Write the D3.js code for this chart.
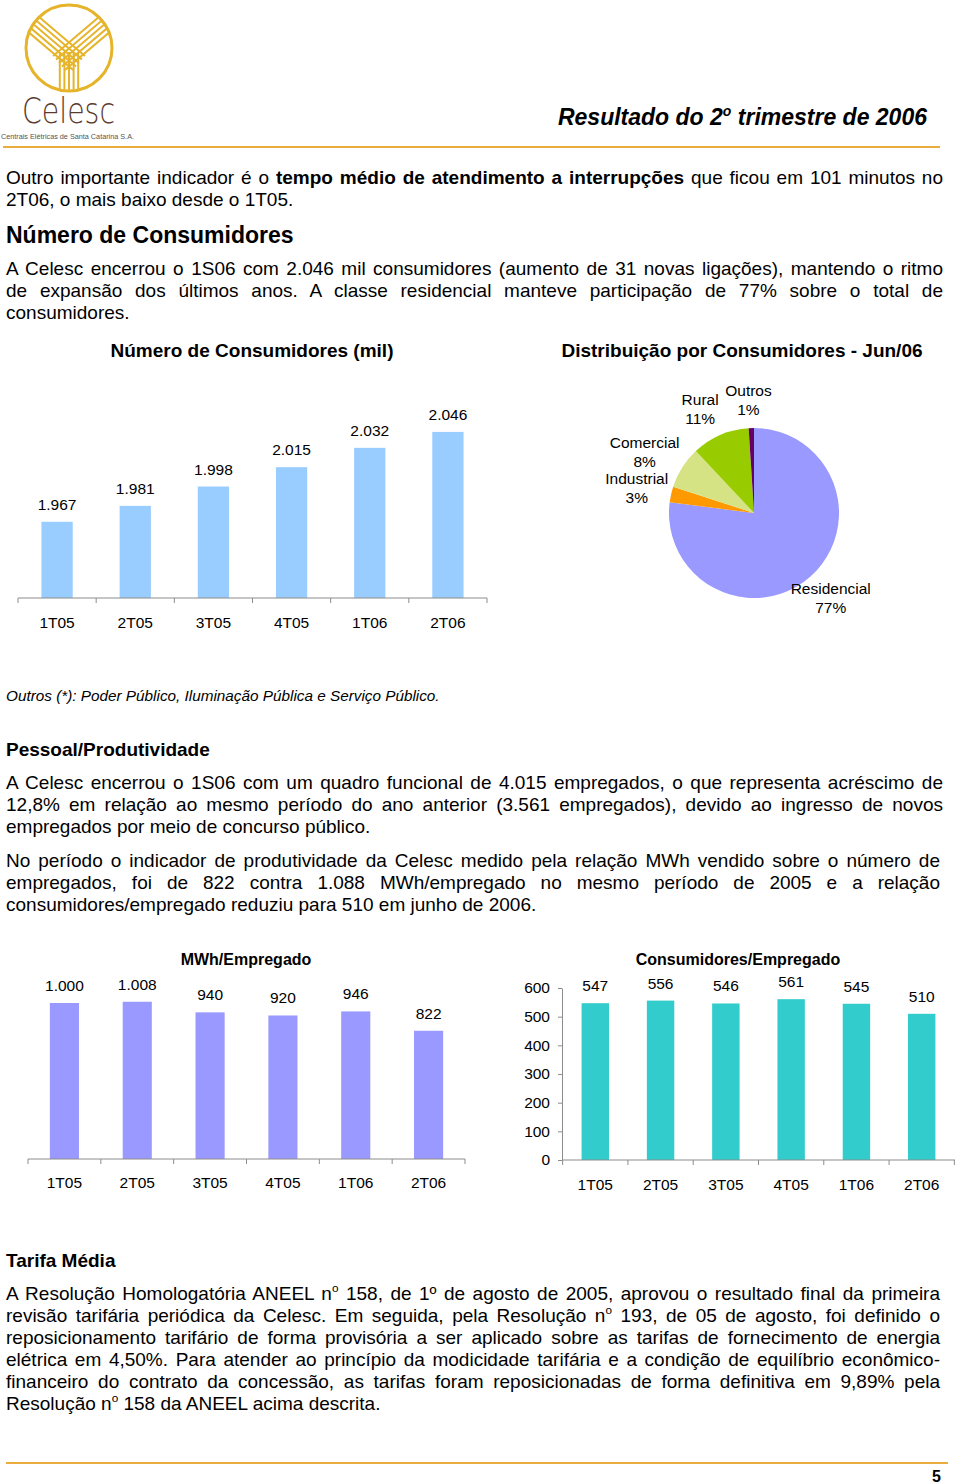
<!DOCTYPE html>
<html>
<head>
<meta charset="utf-8">
<script src="https://cdn.jsdelivr.net/npm/d3@7"></script>
<style>
  body { margin: 0; background: #fff; }
  svg text { white-space: pre; }
</style>
</head>
<body>
<script>
// --- data -------------------------------------------------------------
var quarters = ["1T05", "2T05", "3T05", "4T05", "1T06", "2T06"];
var consumidores = [1967, 1981, 1998, 2015, 2032, 2046];      // mil
var pieClasses = ["Residencial", "Industrial", "Comercial", "Rural", "Outros"];
var pieShares = [77, 3, 8, 11, 1];
var pieColors = ["#9999ff", "#ff9900", "#d6e384", "#99cc00", "#660066"];
var mwhEmpregado = [1000, 1008, 940, 920, 946, 822];
var consEmpregado = [547, 556, 546, 561, 545, 510];
var consTicks = [0, 100, 200, 300, 400, 500, 600];

// --- texts ------------------------------------------------------------
var para1 = ["Outro importante indicador é o **tempo médio de atendimento a interrupções** que ficou em 101 minutos no",
             "2T06, o mais baixo desde o 1T05."];
var para2 = ["A Celesc encerrou o 1S06 com 2.046 mil consumidores (aumento de 31 novas ligações), mantendo o ritmo",
             "de expansão dos últimos anos. A classe residencial manteve participação de 77% sobre o total de",
             "consumidores."];
var para3 = ["A Celesc encerrou o 1S06 com um quadro funcional de 4.015 empregados, o que representa acréscimo de",
             "12,8% em relação ao mesmo período do ano anterior (3.561 empregados), devido ao ingresso de novos",
             "empregados por meio de concurso público."];
var para4 = ["No período o indicador de produtividade da Celesc medido pela relação MWh vendido sobre o número de",
             "empregados, foi de 822 contra 1.088 MWh/empregado no mesmo período de 2005 e a relação",
             "consumidores/empregado reduziu para 510 em junho de 2006."];
var para5 = ["A Resolução Homologatória ANEEL n^o 158, de 1º de agosto de 2005, aprovou o resultado final da primeira",
             "revisão tarifária periódica da Celesc. Em seguida, pela Resolução n^o 193, de 05 de agosto, foi definido o",
             "reposicionamento tarifário de forma provisória a ser aplicado sobre as tarifas de fornecimento de energia",
             "elétrica em 4,50%. Para atender ao princípio da modicidade tarifária e a condição de equilíbrio econômico-",
             "financeiro do contrato da concessão, as tarifas foram reposicionadas de forma definitiva em 9,89% pela",
             "Resolução n^o 158 da ANEEL acima descrita."];

var fmt = d3.formatLocale({decimal: ",", thousands: ".", grouping: [3], currency: ["", ""]}).format(",d");

var svg = d3.select("body").append("svg")
    .attr("width", 960)
    .attr("height", 1484)
    .style("font-family", "'Liberation Sans', Arial, sans-serif");

var gold = "#ebac3e";

// --- logo ------------------------------------------------------------
function drawLogo()
{
    var g = svg.append("g").attr("transform", "translate(69,48)");
    var logoGold = "#e6b42a";
    svg.append("defs").append("clipPath").attr("id", "logoClip")
        .append("circle").attr("cx", 69).attr("cy", 48).attr("r", 42);

    var lines = g.append("g").attr("clip-path", "url(#logoClip)")
        .attr("transform", "translate(-69,-48)")
        .append("g").attr("transform", "translate(69,48)")
        .attr("stroke", logoGold).attr("stroke-width", 2).attr("fill", "none");

    var k;
    for (k = -2; k <= 2; k++) {
        var o = k * 4.6;
        // left arm
        lines.append("line")
            .attr("x1", -50 - 0.646 * o).attr("y1", -36 + 0.763 * o)
            .attr("x2", 10 - 0.646 * o).attr("y2", 15 + 0.763 * o);
        // right arm
        lines.append("line")
            .attr("x1", 50 + 0.646 * o).attr("y1", -36 + 0.763 * o)
            .attr("x2", -10 + 0.646 * o).attr("y2", 15 + 0.763 * o);
        // stem
        lines.append("line")
            .attr("x1", o).attr("y1", 4)
            .attr("x2", o).attr("y2", 46);
    }

    g.append("circle").attr("r", 43)
        .attr("fill", "none").attr("stroke", logoGold).attr("stroke-width", 3);

    svg.append("text")
        .attr("x", 22).attr("y", 123)
        .attr("font-family", "'DejaVu Sans', sans-serif")
        .attr("font-weight", 200)
        .attr("font-size", 35)
        .attr("textLength", 93)
        .attr("lengthAdjust", "spacingAndGlyphs")
        .attr("fill", "#5c3b2e")
        .text("Celesc");

    svg.append("text")
        .attr("x", 1).attr("y", 138.5)
        .attr("font-size", 7.5)
        .attr("textLength", 133)
        .attr("lengthAdjust", "spacingAndGlyphs")
        .attr("fill", "#555")
        .text("Centrais Elétricas de Santa Catarina S.A.");
}

// --- header / footer --------------------------------------------------
function drawFrame()
{
    var h = svg.append("text")
        .attr("x", 927).attr("y", 125)
        .attr("text-anchor", "end")
        .attr("font-size", 23)
        .attr("font-weight", "bold")
        .attr("font-style", "italic");
    h.append("tspan").text("Resultado do 2");
    h.append("tspan").attr("font-size", 14).attr("dy", -9).text("o");
    h.append("tspan").attr("dy", 9).text(" trimestre de 2006");

    svg.append("line").attr("x1", 3).attr("x2", 940).attr("y1", 147).attr("y2", 147)
        .attr("stroke", gold).attr("stroke-width", 2);
    svg.append("line").attr("x1", 6).attr("x2", 948).attr("y1", 1463).attr("y2", 1463)
        .attr("stroke", gold).attr("stroke-width", 2);

    svg.append("text")
        .attr("x", 941).attr("y", 1482)
        .attr("text-anchor", "end")
        .attr("font-size", 16)
        .attr("font-weight", "bold")
        .text("5");
}

// --- justified paragraphs --------------------------------------------
function paragraph(lines, y0, right)
{
    var fs = 19, lh = 22, x0 = 6;
    lines.forEach(function(line, i) {
        var t = svg.append("text")
            .attr("x", x0).attr("y", y0 + i * lh)
            .attr("font-size", fs);
        var parts = line.split(/(\*\*[^*]+\*\*|\^o)/).filter(function(p) { return p.length; });
        var pendingDy = 0;
        parts.forEach(function(p) {
            var ts = t.append("tspan");
            if (p === "^o") {
                ts.text("o").attr("font-size", fs * 0.62).attr("dy", -fs * 0.42);
                pendingDy = fs * 0.42;
                return;
            }
            if (p.indexOf("**") === 0) {
                ts.text(p.slice(2, -2)).attr("font-weight", "bold");
            } else {
                ts.text(p);
            }
            if (pendingDy) { ts.attr("dy", pendingDy); pendingDy = 0; }
        });
        if (i < lines.length - 1) {
            var natural = t.node().getComputedTextLength();
            var spaces = line.split(" ").length - 1;
            t.style("word-spacing", ((right - x0 - natural) / spaces) + "px");
        }
    });
}

function heading(txt, y, size)
{
    svg.append("text")
        .attr("x", 6).attr("y", y)
        .attr("font-size", size)
        .attr("font-weight", "bold")
        .text(txt);
}

// --- bar charts --------------------------------------------------------
function barChart(cfg)
{
    var g = svg.append("g");
    var x = d3.scaleBand()
        .domain(quarters)
        .range(cfg.xRange)
        .paddingInner(cfg.padInner)
        .paddingOuter(0.3);
    var y = d3.scaleLinear()
        .domain(cfg.yDomain)
        .range([cfg.base, cfg.yTop]);

    g.selectAll("rect.bar")
        .data(cfg.values)
        .enter().append("rect")
        .attr("class", "bar")
        .attr("x", function(d, i) { return x(quarters[i]); })
        .attr("width", x.bandwidth())
        .attr("y", function(d) { return y(d); })
        .attr("height", function(d) { return cfg.base - y(d); })
        .attr("fill", cfg.color);

    g.selectAll("text.val")
        .data(cfg.values)
        .enter().append("text")
        .attr("class", "val")
        .attr("x", function(d, i) { return x(quarters[i]) + x.bandwidth() / 2; })
        .attr("y", function(d) { return y(d) - 12; })
        .attr("text-anchor", "middle")
        .attr("font-size", 15.5)
        .text(function(d) { return fmt(d); });

    // category labels
    var ax = g.append("g")
        .attr("transform", "translate(0," + cfg.base + ")")
        .call(d3.axisBottom(x).tickSize(0).tickPadding(cfg.labelPad));
    ax.select(".domain").remove();
    ax.selectAll("text")
        .attr("font-size", 15.5)
        .attr("font-family", "'Liberation Sans', Arial, sans-serif")
        .attr("fill", "#000");

    // axis line with ticks between the categories
    var step = x.step();
    var bounds = quarters.map(function(q) { return x(q) - step * x.paddingInner() / 2; });
    bounds.push(x(quarters[quarters.length - 1]) + x.bandwidth() + step * x.paddingInner() / 2);
    g.append("line")
        .attr("x1", cfg.xRange[0]).attr("x2", cfg.xRange[1])
        .attr("y1", cfg.base).attr("y2", cfg.base)
        .attr("stroke", "#8c8c8c");
    g.selectAll("line.tk")
        .data(bounds)
        .enter().append("line")
        .attr("class", "tk")
        .attr("x1", function(d) { return d; }).attr("x2", function(d) { return d; })
        .attr("y1", cfg.base).attr("y2", cfg.base + 5)
        .attr("stroke", "#8c8c8c");

    if (cfg.yTicks) {
        var ay = g.append("g")
            .attr("transform", "translate(" + cfg.xRange[0] + ",0)")
            .call(d3.axisLeft(y).tickValues(cfg.yTicks).tickSizeInner(4).tickSizeOuter(0).tickPadding(8)
                .tickFormat(function(d) { return fmt(d); }));
        ay.select(".domain").attr("stroke", "#8c8c8c");
        ay.selectAll(".tick line").attr("stroke", "#8c8c8c");
        ay.selectAll("text")
            .attr("font-size", 15.5)
            .attr("font-family", "'Liberation Sans', Arial, sans-serif")
            .attr("fill", "#000");
    }

    if (cfg.title) {
        svg.append("text")
            .attr("x", cfg.titleX).attr("y", cfg.titleY)
            .attr("text-anchor", "middle")
            .attr("font-size", cfg.titleSize)
            .attr("font-weight", "bold")
            .text(cfg.title);
    }
}

// --- pie ---------------------------------------------------------------
function pieChart()
{
    var cx = 754, cy = 513, r = 85, lr = 113;
    // excel pushes the crowded left labels a bit sideways
    var nudge = {Residencial: 2, Industrial: -7, Comercial: -14, Rural: -9, Outros: -2};
    var g = svg.append("g").attr("transform", "translate(" + cx + "," + cy + ")");
    var pie = d3.pie().sort(null).value(function(d) { return d; });
    var arcs = pie(pieShares);
    var arc = d3.arc().innerRadius(0).outerRadius(r);

    g.selectAll("path")
        .data(arcs)
        .enter().append("path")
        .attr("d", arc)
        .attr("fill", function(d, i) { return pieColors[i]; });

    var lab = g.selectAll("text.pl")
        .data(arcs)
        .enter().append("text")
        .attr("class", "pl")
        .attr("text-anchor", "middle")
        .attr("font-size", 15.5)
        .attr("transform", function(d, i) {
            var a = (d.startAngle + d.endAngle) / 2;
            return "translate(" + (Math.sin(a) * lr + nudge[pieClasses[i]]) + "," + (-Math.cos(a) * lr) + ")";
        });
    lab.append("tspan").attr("x", 0).attr("y", -4).text(function(d, i) { return pieClasses[i]; });
    lab.append("tspan").attr("x", 0).attr("y", 15).text(function(d, i) { return pieShares[i] + "%"; });

    svg.append("text")
        .attr("x", 742).attr("y", 357)
        .attr("text-anchor", "middle")
        .attr("font-size", 19)
        .attr("font-weight", "bold")
        .text("Distribuição por Consumidores - Jun/06");
}

// --- page ------------------------------------------------------------
drawLogo();
drawFrame();

paragraph(para1, 184, 943);
heading("Número de Consumidores", 243, 23);
paragraph(para2, 275, 943);

barChart({
    values: consumidores, xRange: [18, 487], padInner: 0.6,
    base: 598, yDomain: [1900, 2060], yTop: 416,
    color: "#99ccff", labelPad: 19,
    title: "Número de Consumidores (mil)", titleX: 252, titleY: 357, titleSize: 19
});
pieChart();

svg.append("text")
    .attr("x", 6).attr("y", 701)
    .attr("font-size", 15.3)
    .attr("font-style", "italic")
    .text("Outros (*): Poder Público, Iluminação Pública e Serviço Público.");

heading("Pessoal/Produtividade", 756, 19);
paragraph(para3, 789, 943);
paragraph(para4, 867, 940);

barChart({
    values: mwhEmpregado, xRange: [28, 465], padInner: 0.6,
    base: 1159, yDomain: [0, 1200], yTop: 971.8,
    color: "#9999ff", labelPad: 18,
    title: "MWh/Empregado", titleX: 246, titleY: 965, titleSize: 16
});
barChart({
    values: consEmpregado, xRange: [562, 955], padInner: 0.58,
    base: 1160, yDomain: [0, 600], yTop: 988,
    color: "#33cccc", labelPad: 19, yTicks: consTicks,
    title: "Consumidores/Empregado", titleX: 738, titleY: 965, titleSize: 16
});

heading("Tarifa Média", 1267, 19);
paragraph(para5, 1300, 940);
</script>
</body>
</html>
